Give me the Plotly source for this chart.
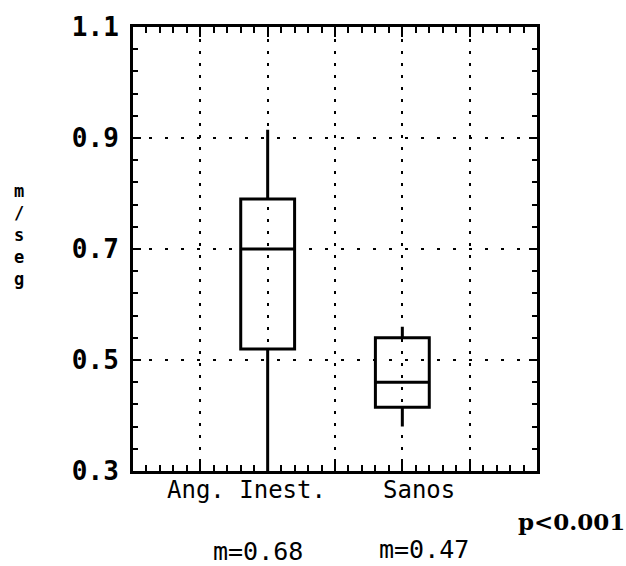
import plotly.graph_objects as go

# ---- data ----
groups = ["Ang. Inest.", "Sanos"]
positions = [2, 4]
q1 = [0.52, 0.415]
median = [0.70, 0.46]
q3 = [0.79, 0.54]
lowerfence = [0.30, 0.38]
upperfence = [0.915, 0.56]
means = [0.68, 0.47]
yticks = [0.3, 0.5, 0.7, 0.9, 1.1]
yticktext = ["0.3", "0.5", "0.7", "0.9", "1.1"]
p_text = "p<0.001"
ytitle_letters = ["m", "/", "s", "e", "g"]

MONO = "DejaVu Sans Mono"
fig = go.Figure()
for i, g in enumerate(groups):
    fig.add_trace(go.Box(
        x=[positions[i]], q1=[q1[i]], median=[median[i]], q3=[q3[i]],
        lowerfence=[lowerfence[i]], upperfence=[upperfence[i]],
        name=g, width=0.8, whiskerwidth=0,
        line=dict(color="black", width=3),
        fillcolor="rgba(0,0,0,0)", boxpoints=False, showlegend=False,
        hoverinfo="skip",
    ))

L, R, T, B = 133, 537, 25, 471
W, H = 626, 566

def px(x):
    return (x - L) / (R - L)

def py(y):
    return (B - y) / (B - T)

fig.update_layout(
    width=W, height=H,
    margin=dict(l=L, r=W - R, t=T, b=H - B),
    paper_bgcolor="white", plot_bgcolor="white",
    xaxis=dict(range=[0, 6], tickvals=[1, 2, 3, 4, 5], showticklabels=False,
               showgrid=True, gridcolor="black", gridwidth=2, griddash="3px,9px",
               showline=True, linecolor="black", linewidth=3, mirror="allticks",
               ticks="inside", ticklen=10, tickwidth=2, tickcolor="black",
               zeroline=False,
               minor=dict(dtick=0.2, tick0=0, ticks="inside", ticklen=6,
                          tickwidth=2, tickcolor="black", showgrid=False)),
    yaxis=dict(range=[0.3, 1.1], tickvals=yticks, ticktext=yticktext,
               showgrid=True, gridcolor="black", gridwidth=2, griddash="3px,13px",
               showline=True, linecolor="black", linewidth=3, mirror="allticks",
               ticks="inside", ticklen=8, tickwidth=2, tickcolor="black",
               zeroline=False, ticklabelstandoff=6,
               tickfont=dict(family=MONO, size=26, color="black", weight="bold"),
               minor=dict(dtick=0.04, tick0=0.3, ticks="inside", ticklen=5,
                          tickwidth=2, tickcolor="black", showgrid=False)),
)

label_px = [246, 419]
for i, g in enumerate(groups):
    fig.add_annotation(text=g, x=px(label_px[i]), y=py(490), xref="paper", yref="paper",
                       showarrow=False, xanchor="center", yanchor="middle",
                       font=dict(family=MONO, size=24, color="black"))

mean_px = [258, 424]
mean_py = [552, 550]
for i, m in enumerate(means):
    fig.add_annotation(text=f"m={m:.2f}", x=px(mean_px[i]), y=py(mean_py[i]),
                       xref="paper", yref="paper", showarrow=False,
                       xanchor="center", yanchor="middle",
                       font=dict(family=MONO, size=25, color="black"))

fig.add_annotation(text=p_text.replace("<", "&lt;"), x=px(571), y=py(522),
                   xref="paper", yref="paper", showarrow=False,
                   xanchor="center", yanchor="middle",
                   font=dict(family="DejaVu Serif", size=23, color="black", weight="bold"))

fig.add_annotation(text="<br>".join(ytitle_letters), x=px(19), y=py(234),
                   xref="paper", yref="paper", showarrow=False,
                   xanchor="center", yanchor="middle",
                   font=dict(family=MONO, size=17, color="black", weight="bold"))

fig.write_html("out.html")
